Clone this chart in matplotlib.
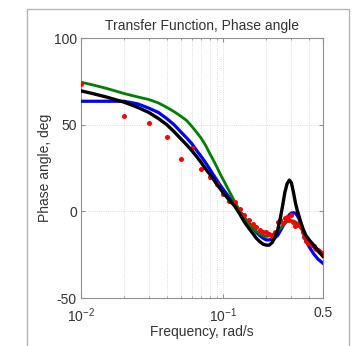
import matplotlib
matplotlib.use("Agg")
import matplotlib.pyplot as plt
from matplotlib.patches import Rectangle
from matplotlib.ticker import FixedLocator, NullFormatter, LogLocator

plt.rcParams['font.family'] = ['Liberation Sans', 'DejaVu Sans']
plt.rcParams['mathtext.fontset'] = 'custom'
plt.rcParams['mathtext.rm'] = 'Liberation Sans'
plt.rcParams['axes.unicode_minus'] = False

# curve frequencies (rad/s)
f_curve = [0.01, 0.012, 0.015, 0.02, 0.025, 0.03,
           0.035, 0.04, 0.045, 0.05, 0.055, 0.06, 0.065, 0.07, 0.075, 0.08, 0.085, 0.09, 0.095, 0.1,
           0.11, 0.12, 0.13, 0.14, 0.15, 0.16, 0.17, 0.18, 0.19, 0.2,
           0.21, 0.22, 0.23, 0.24, 0.25, 0.26, 0.27, 0.28, 0.29, 0.30, 0.31, 0.32, 0.33, 0.34, 0.35,
           0.36, 0.37, 0.38,
           0.4, 0.43, 0.46, 0.5]

black_phase = [69.5, 68, 66, 63, 60, 57,
               53.5, 50, 46, 42, 38.5, 35, 31.5, 28, 24.5, 21.5, 18.5, 15.5, 13, 10.5,
               6.5, 3, -1.5, -6, -9.5, -12.5, -15.5, -17.5, -19, -19.5,
               -19.5, -18, -15, -11, -4.5, 3, 11, 16, 18, 16.5, 11, 5, 0.5, -3, -6.5,
               -9.5, -12, -14,
               -16.5, -19.5, -22.5, -26]

blue_phase = [63.5, 63.5, 63.5, 63.5, 62, 59.5,
              57, 53.5, 50, 46, 42.5, 39, 35, 31.5, 28, 24.5, 21, 18, 15, 12.5,
              8, 4, 0, -3.5, -6.5, -9.5, -12, -14, -15.5, -16.5,
              -16.5, -16, -15.2, -14, -11.5, -9, -6.5, -4, -2, -1, -0.8, -1, -2.5, -4.5, -8,
              -11.5, -14.5, -17,
              -20.5, -24.5, -27.5, -30]

green_phase = [74.5, 73, 71, 68, 66, 64.5,
               62.5, 60, 57.5, 55, 52.5, 49, 45.5, 42, 38, 33.5, 29.5, 25.5, 21.5, 18,
               11.5, 5.5, 0.5, -3.5, -7, -9.5, -11.5, -13, -14, -14.5,
               -14.2, -13.5, -12.5, -11.5, -10, -8.5, -7, -6, -5.5, -5.5, -5.5, -6, -7, -8, -9.5,
               -11, -13, -14.5,
               -17.5, -20.5, -23, -26]

# measured data points
f_meas = [0.01, 0.02, 0.03, 0.04, 0.05, 0.06, 0.07, 0.08, 0.09, 0.10,
          0.11, 0.12, 0.13, 0.14, 0.15, 0.16, 0.17, 0.18, 0.19, 0.20,
          0.21, 0.22, 0.23, 0.24, 0.25, 0.26, 0.27, 0.28, 0.29, 0.30,
          0.31, 0.32, 0.33, 0.34, 0.35, 0.36, 0.37, 0.38, 0.39, 0.40,
          0.41, 0.42, 0.43, 0.44, 0.45, 0.46, 0.47, 0.48, 0.49, 0.50]
phase_meas = [73.5, 55, 50.7, 42.8, 30.2, 36.5, 24.6, 20, 15.5, 10,
              6, 5.5, 1.5, -2, -5, -7.5, -9, -10.5, -12, -12,
              -13, -14, -12, -6, -5, -7, -4, -3, -5, -2,
              -6, -8.5, -8, -7, -9, -12, -15, -17, -18, -18.5,
              -19, -19.5, -20, -21, -22, -22.5, -23, -23.5, -24, -25]

xticks = [0.01, 0.1, 0.5]
xticklabels = [r'$10^{-2}$', r'$10^{-1}$', '0.5']
yticks = [-50, 0, 50, 100]

fig = plt.figure(figsize=(3.52, 3.46), dpi=100)
fig.patches.append(Rectangle((27 / 352, -0.1), (349 - 27) / 352, 1.1 - 9 / 346,
                             transform=fig.transFigure, fill=False,
                             edgecolor='#b4b4b4', linewidth=1.0))
ax = fig.add_axes([81 / 352, 1 - 298 / 346, (323 - 81) / 352, (298 - 38) / 346])

ax.plot(f_curve, blue_phase, color='#0000ff', lw=2.3, zorder=3)
ax.plot(f_curve, green_phase, color='#007f00', lw=2.0, zorder=3)
ax.plot(f_meas, phase_meas, 'o', color='#ff0000', ms=3.6, mec='none', zorder=4)
ax.plot(f_curve, black_phase, color='#000000', lw=2.4, zorder=5)

ax.set_xscale('log')
ax.set_xlim(0.01, 0.5)
ax.set_ylim(-50, 100)
ax.xaxis.set_major_locator(FixedLocator(xticks))
ax.set_xticklabels(xticklabels)
ax.xaxis.set_minor_locator(LogLocator(base=10, subs=range(2, 10)))
ax.xaxis.set_minor_formatter(NullFormatter())
ax.set_yticks(yticks)

ax.grid(True, which='both', axis='x', color='#d0d0d0', linestyle=':', linewidth=0.6)
ax.grid(True, which='major', axis='y', color='#d0d0d0', linestyle=':', linewidth=0.6)

ax.tick_params(which='both', direction='in', top=True, right=True,
               colors='#909090', labelcolor='#333333', labelsize=10)
ax.tick_params(axis='x', which='major', pad=6)
ax.tick_params(axis='y', which='major', pad=3)
ax.tick_params(which='major', length=3)
ax.tick_params(which='minor', length=1.5)
for s in ax.spines.values():
    s.set_color('#909090')
    s.set_linewidth(0.8)

ax.set_title('Transfer Function, Phase angle', fontsize=10, color='#333333', pad=6)
ax.set_xlabel('Frequency, rad/s', fontsize=10, color='#333333', labelpad=0)
ax.set_ylabel('Phase angle, deg', fontsize=10, color='#333333', labelpad=1)

fig.savefig('out.png', dpi=100)
